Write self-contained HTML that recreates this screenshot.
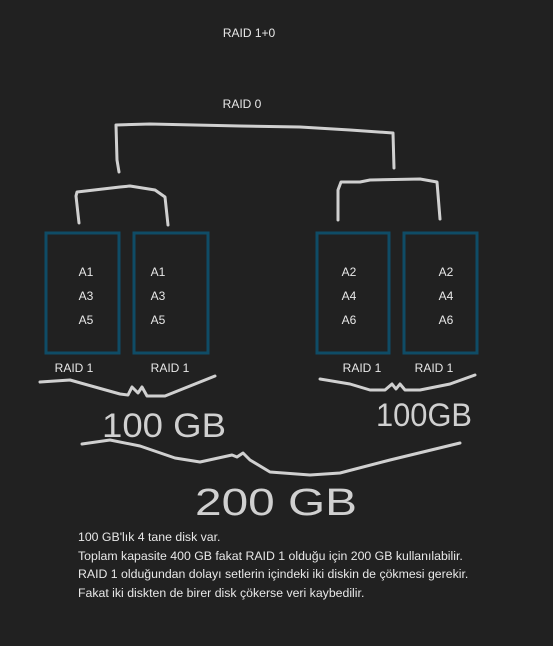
<!DOCTYPE html>
<html><head><meta charset="utf-8"><style>
html,body{margin:0;padding:0;background:#212121;}
body{width:553px;height:646px;overflow:hidden;position:relative;font-family:"Liberation Sans",sans-serif;}
svg{position:absolute;left:0;top:0;}
.p{position:absolute;left:78px;top:528px;color:#e8e8e8;font-size:12.3px;line-height:18.5px;white-space:nowrap;}
</style></head><body>
<svg width="553" height="646" viewBox="0 0 553 646">
<g fill="none" stroke="#d0d0d0" stroke-width="3" stroke-linecap="round" stroke-linejoin="round">
<path d="M119,172 L117,160 L116,125 L150,124 L240,126 L300,127 L350,130 L393,133 L394,168"/>
<path d="M79,223 L76,196 L77,192 L120,187 L130,186 L155,190 L165,197 L168,225"/>
<path d="M338,220 L338,190 L341,182 L360,182 L370,180 L420,179 L437,182 L440,219"/>
<path d="M40,382 L70,380 L120,394 L128,395 L132,387 L138,393 L142,387 L147,396 L165,396 L180,390 L215,376"/>
<path d="M320,379 L350,384 L370,390 L385,390 L392,384 L396,389 L400,384 L405,390 L420,390 L450,384 L475,375"/>
<path d="M82,444 L110,440 L140,446 L175,458 L200,462 L232,455 L237,457 L243,453 L250,460 L270,472 L310,475 L340,473 L390,460 L460,443"/>
</g>
<g fill="none" stroke="#0f4c66" stroke-width="3">
<rect x="46" y="233" width="73" height="120"/>
<rect x="134" y="233" width="74" height="120"/>
<rect x="317" y="233" width="72" height="120"/>
<rect x="404" y="233" width="73" height="120"/>
</g>
<g fill="#e8e8e8" font-family="Liberation Sans, sans-serif" font-size="12" text-anchor="middle">
<text x="86" y="276">A1</text><text x="86" y="300">A3</text><text x="86" y="324">A5</text>
<text x="158" y="276">A1</text><text x="158" y="300">A3</text><text x="158" y="324">A5</text>
<text x="349" y="276">A2</text><text x="349" y="300">A4</text><text x="349" y="324">A6</text>
<text x="446" y="276">A2</text><text x="446" y="300">A4</text><text x="446" y="324">A6</text>
<text x="249" y="37">RAID 1+0</text>
<text x="242" y="108">RAID 0</text>
<text x="74" y="372">RAID 1</text><text x="170" y="372">RAID 1</text>
<text x="362" y="372">RAID 1</text><text x="434" y="372">RAID 1</text>
</g>
<g fill="#d0d0d0" font-family="Liberation Sans, sans-serif" text-anchor="middle">
<text x="164" y="437" font-size="34" textLength="124" lengthAdjust="spacingAndGlyphs">100 GB</text>
<text x="424" y="426" font-size="32" textLength="96" lengthAdjust="spacingAndGlyphs">100GB</text>
<text x="276" y="515" font-size="38" textLength="162" lengthAdjust="spacingAndGlyphs">200 GB</text>
</g>
</svg>
<div class="p">100 GB'lık 4 tane disk var.<br>Toplam kapasite 400 GB fakat RAID 1 olduğu için 200 GB kullanılabilir.<br>RAID 1 olduğundan dolayı setlerin içindeki iki diskin de çökmesi gerekir.<br>Fakat iki diskten de birer disk çökerse veri kaybedilir.</div>
</body></html>
